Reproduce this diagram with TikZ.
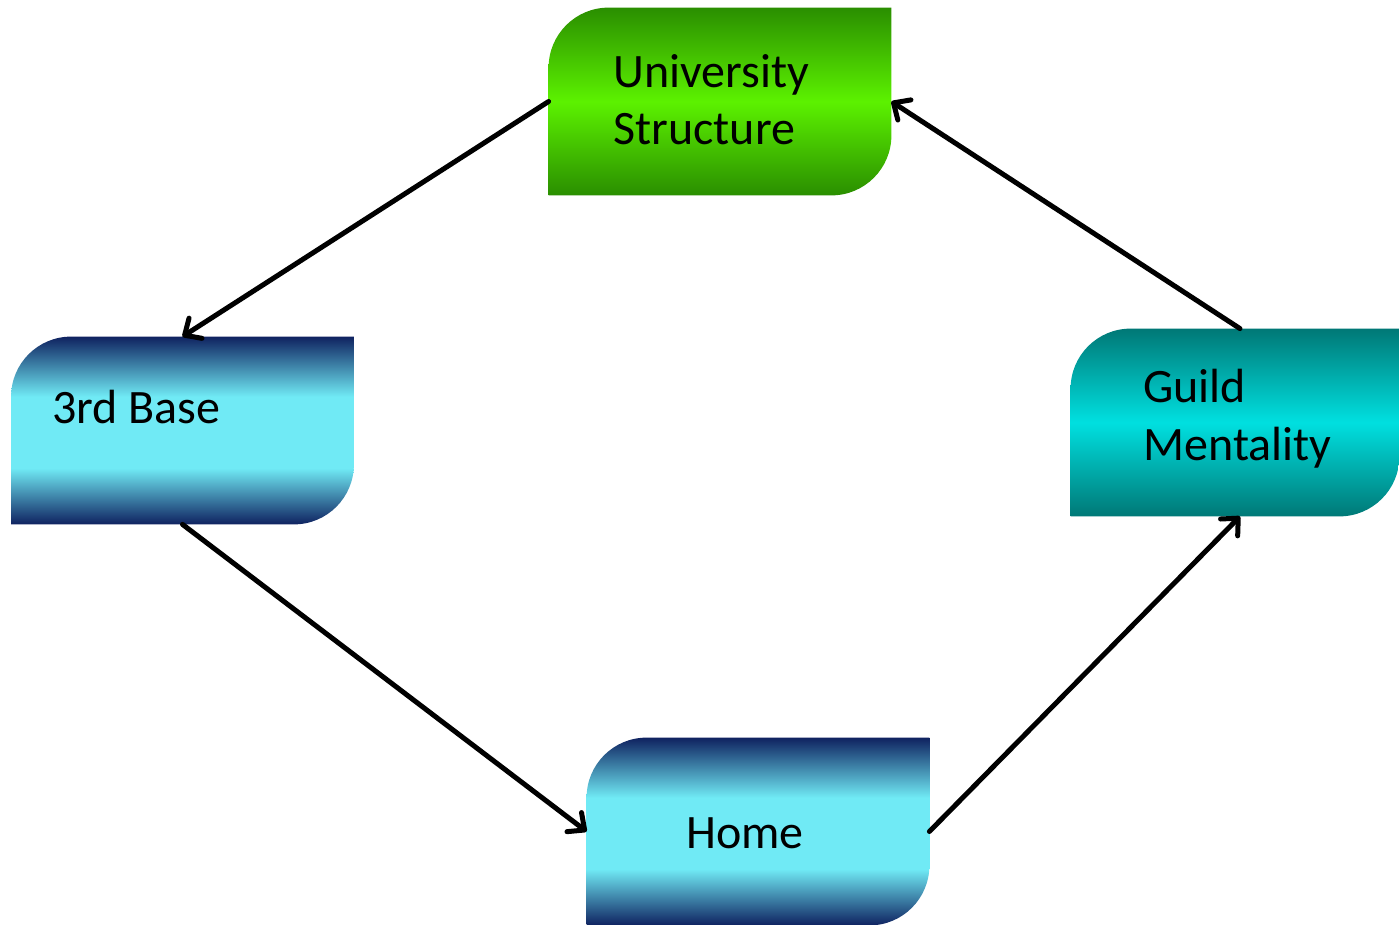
\documentclass[tikz,border=0pt]{standalone}
\usepackage{fontspec}
\setmainfont{Carlito}
\usepackage{xcolor}
\usepackage{tikz}
\usetikzlibrary{calc}
\usetikzlibrary{arrows.meta}
\tikzset{>={Straight Barb[round,length=6.5pt,width=12pt]}}

\definecolor{grdark}{HTML}{2A8E00}
\definecolor{grlight}{HTML}{5CF200}
\definecolor{navydark}{HTML}{0F2260}
\definecolor{cyanlight}{HTML}{70EAF5}
\definecolor{tealdark}{HTML}{007876}
\definecolor{teallight}{HTML}{00E0E0}

\pgfdeclareverticalshading{greenband}{100bp}{color(0bp)=(grdark); color(25bp)=(grdark); color(50bp)=(grlight); color(75bp)=(grdark); color(100bp)=(grdark)}
\pgfdeclareverticalshading{cyanband}{100bp}{color(0bp)=(navydark); color(25bp)=(navydark); color(40bp)=(cyanlight); color(59bp)=(cyanlight); color(75bp)=(navydark); color(100bp)=(navydark)}
\pgfdeclareverticalshading{tealband}{100bp}{color(0bp)=(tealdark); color(25bp)=(tealdark); color(50bp)=(teallight); color(75bp)=(tealdark); color(100bp)=(tealdark)}

% box with round top left and bottom right corners
\newcommand{\cornerbox}[2]{%
  \shade[shading=#2] (#1.south west) -- ($(#1.north west)+(0,-30pt)$)
    arc[start angle=180, end angle=90, radius=30pt] -- (#1.north east)
    -- ($(#1.south east)+(0,30pt)$)
    arc[start angle=0, end angle=-90, radius=30pt] -- cycle;}

\begin{document}
\begin{tikzpicture}[x=0.5pt, y=-0.5pt,
    box/.style = {rectangle, minimum width=171pt, minimum height=93.5pt, inner sep=0pt},
    label text/.style = {font=\fontsize{24}{28.5}\selectfont, align=left, anchor=base west, inner sep=0pt},
    connector/.style = {->, line width=2.5pt, line cap=round}]
        \useasboundingbox (0,0) rectangle (1399,925);

        \node[box] (univ) at (720,101.5) {};
        \node[box] (base) at (182.5,430.5) {};
        \node[box, minimum width=164pt] (guild) at (1235,422.5) {};
        \node[box] (home) at (758,831.5) {};

        \cornerbox{univ}{greenband}
        \cornerbox{base}{cyanband}
        \cornerbox{guild}{tealband}
        \cornerbox{home}{cyanband}

        \node[label text] (univ text) at (613,145) {University\\Structure};
        \node[label text] (base text) at (52,423) {3rd Base};
        \node[label text] (guild text) at (1143,460) {Guild\\Mentality};
        \node[label text] (home text) at (686,848) {Home};

        \draw [connector] (univ.west) -- (base.north);
        \draw [connector] (base.south) -- (home.west);
        \draw [connector] (home.east) -- ([xshift=2.5pt]guild.south);
        \draw [connector] ([xshift=2.5pt]guild.north) -- (univ.east);
    \end{tikzpicture}
\end{document}
